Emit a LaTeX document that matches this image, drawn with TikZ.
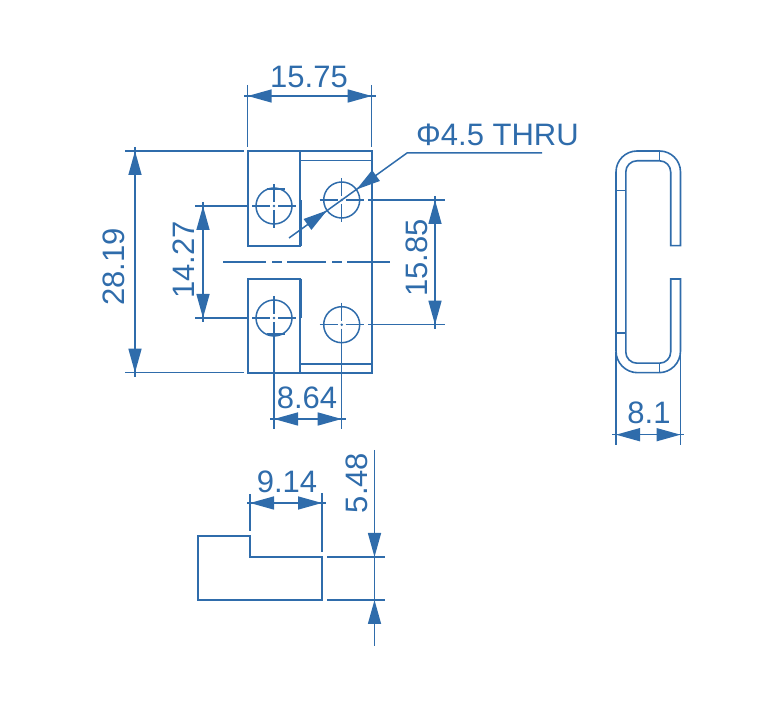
\documentclass[tikz,border=0pt]{standalone}
\usepackage{fontspec}
\setmainfont{Liberation Sans}
\usetikzlibrary{arrows.meta}
\definecolor{cadblue}{HTML}{2F6CAB}
\tikzset{
  part/.style={draw=cadblue,line width=1.7pt,line join=miter},
  thin part/.style={draw=cadblue,line width=1.5pt},
  dimline/.style={draw=cadblue,line width=1.5pt},
  tipped/.style={draw=cadblue,line width=1.5pt,-{Triangle[length=24pt,width=13pt,fill=cadblue]}},
  lab/.style={text=cadblue,font=\fontsize{31}{31}\selectfont,inner sep=0pt}
}
\newcommand{\crossmark}[2]{%
  \draw[thin part] (#1-22,#2) -- (#1-4,#2) (#1+4,#2) -- (#1+22,#2)
    (#1,#2-22) -- (#1,#2-4) (#1,#2+4) -- (#1,#2+22);
  \fill[cadblue] (#1,#2) circle (1.4);
  \draw[part,line width=1.5pt] (#1,#2) circle (18);}
\begin{document}
\begin{tikzpicture}[x=1pt,y=-1pt]
\useasboundingbox (0,0) rectangle (780,708);
% front view
\draw[part] (247.7,151) rectangle (300,245.7);
\draw[part] (247.7,278.7) rectangle (300,372.7);
\draw[part] (300.5,151) -- (371.7,151) -- (371.7,372.7) -- (300.5,372.7) -- (300.5,278.7);
\draw[part] (300.5,245.7) -- (300.5,151);
\draw[thin part] (300.5,160.7) -- (371.7,160.7) (300.5,364) -- (371.7,364);
\draw[part] (301.5,200) -- (301.5,245.7) (301.5,278.7) -- (301.5,318);
\draw[part] (267,189.2) -- (285,189.2) (267,334) -- (285,334);
\draw[thin part] (223,262) -- (266,262) (272,262) -- (282,262) (287,262) -- (326,262)
  (332,262) -- (342,262) (347,262) -- (390,262);
\crossmark{274}{206}
\crossmark{341.7}{200}
\crossmark{274}{318}
\crossmark{341.7}{324.7}
% 15.75
\draw[dimline] (247.7,85) -- (247.7,147) (371.7,85) -- (371.7,147);
\draw[dimline] (244,96) -- (376,96);
\draw[tipped] (272,96) -- (247.7,96);
\draw[tipped] (348,96) -- (371.7,96);
\node[lab] (t1) at (309,77) {15.75};
% 28.19
\draw[dimline] (125,151) -- (244,151) (125,372.7) -- (244,372.7);
\draw[dimline] (135,147) -- (135,377);
\draw[tipped] (135,175) -- (135,151);
\draw[tipped] (135,349) -- (135,372.7);
\node[lab,rotate=90] (t2) at (114,267) {28.19};
% 14.27
\draw[dimline] (195,206) -- (248,206) (195,318) -- (248,318);
\draw[dimline] (203,202) -- (203,322);
\draw[tipped] (203,230) -- (203,206);
\draw[tipped] (203,294) -- (203,318);
\node[lab,rotate=90] (t3) at (184,260) {14.27};
% 15.85
\draw[dimline] (368,200) -- (445,200) (368,324.7) -- (445,324.7);
\draw[dimline] (435,196) -- (435,329);
\draw[tipped] (435,224) -- (435,200);
\draw[tipped] (435,301) -- (435,324.7);
\node[lab,rotate=90] (t4) at (417,258) {15.85};
% 8.64
\draw[dimline] (274,340) -- (274,429) (341.7,347) -- (341.7,429);
\draw[dimline] (270,419) -- (346,419);
\draw[tipped] (298,419) -- (274,419);
\draw[tipped] (318,419) -- (341.7,419);
\node[lab] (t5) at (307,398) {8.64};
% hole callout
\coordinate (l0) at (542,153);
\coordinate (l1) at (407,153);
\coordinate (l2) at (289,238);
\coordinate (h1) at (356.5,189.5);
\coordinate (h2) at (327,210.5);
\draw[dimline] (l0) -- (l1) -- (l2);
\draw[tipped] (376.2,175.4) -- (h1);
\draw[tipped] (307.3,224.6) -- (h2);
\node[lab,anchor=west] (t6) at (416,135) {Φ4.5 THRU};
% side view
\draw[part,line width=1.6pt] (616,351) -- (616,172) arc[start angle=180,end angle=270,radius=21]
  -- (659.5,151) arc[start angle=270,end angle=360,radius=21] -- (680.5,245.7) -- (670.7,245.7)
  -- (670.7,172) arc[start angle=0,end angle=-90,radius=11.2] -- (637,160.8)
  arc[start angle=-90,end angle=-180,radius=11.2] -- (625.8,352)
  arc[start angle=180,end angle=90,radius=11.2] -- (659.5,363.2)
  arc[start angle=90,end angle=0,radius=11.2] -- (670.7,279) -- (680.5,279) -- (680.5,351)
  arc[start angle=0,end angle=90,radius=21.7] -- (637.7,372.7)
  arc[start angle=90,end angle=180,radius=21.7];
\draw[thin part] (659.5,151) -- (659.5,160.8) (659.5,363.2) -- (659.5,372.7)
  (616,190.7) -- (625.8,190.7) (616,333) -- (625.8,333);
% 8.1
\draw[dimline] (616,352) -- (616,445) (680.5,352) -- (680.5,445);
\draw[dimline] (612,434.7) -- (684,434.7);
\draw[tipped] (640.5,434.7) -- (616,434.7);
\draw[tipped] (656,434.7) -- (680.5,434.7);
\node[lab] (t7) at (649,413) {8.1};
% bottom view
\draw[part] (198,536) -- (250,536) -- (250,557) -- (322,557) -- (322,600) -- (198,600) -- cycle;
\draw[dimline] (250,494) -- (250,531) (322,493) -- (322,552);
\draw[dimline] (247,503) -- (326,503);
\draw[tipped] (274,503) -- (250,503);
\draw[tipped] (298,503) -- (322,503);
\node[lab] (t8) at (287,482) {9.14};
% 5.48
\draw[dimline] (327,557) -- (385,557) (327,600) -- (385,600);
\draw[dimline] (374.5,450) -- (374.5,646);
\draw[tipped] (374.5,532) -- (374.5,557);
\draw[tipped] (374.5,624) -- (374.5,600);
\node[lab,rotate=90] (t9) at (357,483) {5.48};
\end{tikzpicture}
\end{document}
